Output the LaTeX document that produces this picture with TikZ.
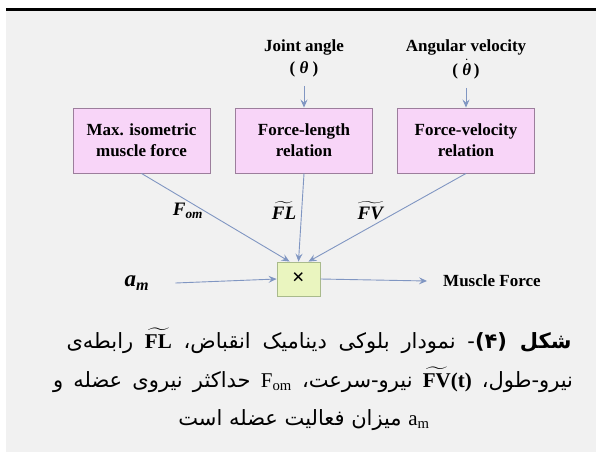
\documentclass[tikz,border=0pt]{standalone}
\usepackage{amsmath}
\usepackage{fontspec}
\setmainfont{Liberation Serif}
\newfontfamily\arabicfont[Script=Arabic]{DejaVu Sans}
\TeXXeTstate=1
\usetikzlibrary{arrows.meta}
\definecolor{panel}{HTML}{F1F1F1}
\definecolor{pinkf}{HTML}{F8D5F8}
\definecolor{pinkd}{HTML}{9C7E9C}
\definecolor{greenf}{HTML}{EAF5BF}
\definecolor{greend}{HTML}{A9BA8C}
\definecolor{arr}{HTML}{8096C2}
\newcommand{\bi}[1]{\textbf{\textit{#1}}}
\newcommand{\tld}[1]{\ensuremath{\widetilde{\hbox{#1}}}}
\newcommand{\dt}[1]{\ensuremath{\dot{\hbox{#1}}}}
\begin{document}
\begin{tikzpicture}[x=1pt,y=-1pt,
 blk/.style={draw=pinkd, fill=pinkf, line width=0.9pt, minimum width=137pt, minimum height=65pt, align=center, font=\bfseries\fontsize{17}{21}\selectfont, inner sep=0pt},
 mulbox/.style={draw=greend, fill=greenf, line width=0.9pt, minimum width=43pt, minimum height=34pt, inner sep=0pt},
 conn/.style={draw=arr, line width=0.9pt, -{Stealth[length=8pt,width=7pt,inset=3pt]}},
 lbl/.style={font=\bfseries\fontsize{17}{21}\selectfont, inner sep=0pt},
 mlbl/.style={font=\fontsize{19}{20}\selectfont, inner sep=0pt},
 captxt/.style={font=\arabicfont\fontsize{21}{39}\selectfont, inner sep=0pt}]
\useasboundingbox (0,0) rectangle (596,452);
\fill[white] (0,0) rectangle (596,452);
\fill[panel] (6,11) rectangle (596,452);
\draw[line width=3pt] (6,9.5) -- (596,9.5);

\node[blk] (b1) at (141.5,140.5) {Max. isometric\\muscle force};
\node[blk] (b2) at (304,140.5) {Force-length\\relation};
\node[blk] (b3) at (466,140.5) {Force-velocity\\relation};

\node[lbl] (ja) at (304,47) {Joint angle};
\node[lbl] (jt) at (304,69) {( \bi{θ} )};
\node[lbl] (av) at (466,47) {Angular velocity};
\node[lbl] (avt) at (466,69) {( \dt{\bi{θ}}\,)};

\node[mulbox] (mul) at (298.5,279) {\fontsize{22}{22}\selectfont\bfseries ×};
\node[font=\fontsize{23}{23}\selectfont, inner sep=0pt] (am) at (137,283) {\bi{a}\textsubscript{\bi{m}}};
\node[lbl, anchor=west] (mf) at (443,281) {Muscle Force};

\node[mlbl] (lfom) at (188,211) {\bi{F}\textsubscript{\bi{om}}};
\node[mlbl] (lfl) at (284,211) {\tld{\bi{FL}}};
\node[mlbl] (lfv) at (371,211) {\tld{\bi{FV}}};

\draw[conn] ([yshift=-9pt]jt.south) -- (b2.north);
\draw[conn] ([yshift=-9pt]avt.south) -- (b3.north);
\draw[conn] ([xshift=26pt]am.east) -- (mul.west);
\draw[conn] (mul.east) -- ([xshift=-16pt]mf.west);
\draw[conn] (b1.south) -- ([xshift=-9pt]mul.north);
\draw[conn] (b2.south) -- (mul.north);
\draw[conn] (b3.south) -- ([xshift=10pt]mul.north);

\node[captxt] (c1) at (319,341) {\hbox to 505pt{\beginR\textbf{شکل (۴)}- نمودار بلوکی دینامیک انقباض، {\rmfamily\beginL\tld{\bfseries FL}\endL} رابطه‌ی\endR}};
\node[captxt] (c2) at (313,380) {\hbox to 520pt{\beginR نیرو-طول، {\rmfamily\beginL\tld{\bfseries FV}\textbf{(t)}\endL} نیرو-سرعت، {\rmfamily\beginL F\textsubscript{om}\endL} حداکثر نیروی عضله و\endR}};
\node[captxt] (c3) at (304,420) {\beginR{\rmfamily\beginL a\textsubscript{m}\endL} میزان فعالیت عضله است\endR};
\end{tikzpicture}
\end{document}
